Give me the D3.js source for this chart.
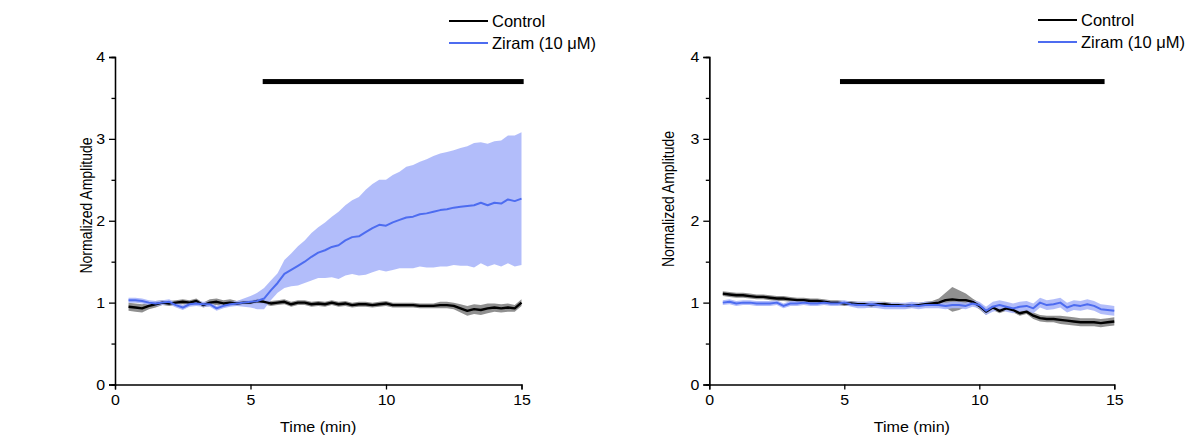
<!DOCTYPE html>
<html>
<head>
<meta charset="utf-8">
<script src="https://cdn.jsdelivr.net/npm/d3@7"></script>
<style>
  body { margin: 0; background: #fff; }
  svg { display: block; font-family: "Liberation Sans", Arial, sans-serif; }
</style>
</head>
<body>
<svg id="chart" width="1200" height="441"></svg>
<script>
// --- Data ---

const times = [
  0.5, 0.75, 1, 1.25, 1.5, 1.75, 2, 2.25, 2.5, 2.75,
  3, 3.25, 3.5, 3.75, 4, 4.25, 4.5, 4.75, 5, 5.25,
  5.5, 5.75, 6, 6.25, 6.5, 6.75, 7, 7.25, 7.5, 7.75,
  8, 8.25, 8.5, 8.75, 9, 9.25, 9.5, 9.75, 10, 10.25,
  10.5, 10.75, 11, 11.25, 11.5, 11.75, 12, 12.25, 12.5, 12.75,
  13, 13.25, 13.5, 13.75, 14, 14.25, 14.5, 14.75, 15,
];

const leftCtrlMean = [
  0.95, 0.94, 0.93, 0.96, 0.98, 1.00, 0.99, 1.00, 1.01, 1.00,
  1.02, 0.97, 1.00, 1.01, 0.99, 1.00, 0.99, 1.00, 1.00, 1.02,
  1.01, 0.99, 1.00, 1.01, 0.98, 1.00, 1.00, 0.98, 0.99, 0.98,
  1.00, 0.98, 0.99, 0.97, 0.98, 0.98, 0.97, 0.98, 0.99, 0.97,
  0.97, 0.97, 0.97, 0.96, 0.96, 0.96, 0.97, 0.97, 0.96, 0.93,
  0.90, 0.92, 0.91, 0.93, 0.94, 0.93, 0.94, 0.93, 1.00,
];
const leftCtrlSem = [
  0.05, 0.05, 0.05, 0.04, 0.04, 0.03, 0.03, 0.03, 0.03, 0.03,
  0.03, 0.03, 0.04, 0.04, 0.04, 0.04, 0.03, 0.03, 0.03, 0.03,
  0.03, 0.03, 0.03, 0.03, 0.03, 0.03, 0.03, 0.03, 0.03, 0.03,
  0.03, 0.03, 0.03, 0.03, 0.03, 0.03, 0.03, 0.03, 0.03, 0.03,
  0.03, 0.03, 0.03, 0.03, 0.03, 0.03, 0.04, 0.04, 0.04, 0.05,
  0.06, 0.06, 0.06, 0.06, 0.05, 0.05, 0.05, 0.04, 0.04,
];
const leftZirMean = [
  1.03, 1.03, 1.02, 1.00, 0.99, 1.00, 1.01, 0.97, 0.94, 0.98,
  0.99, 0.98, 0.98, 0.93, 0.96, 0.98, 0.99, 1.00, 1.01, 1.02,
  1.05, 1.15, 1.24, 1.35, 1.40, 1.45, 1.50, 1.56, 1.61, 1.64,
  1.68, 1.70, 1.76, 1.80, 1.81, 1.86, 1.91, 1.95, 1.94, 1.98,
  2.01, 2.04, 2.05, 2.08, 2.09, 2.11, 2.13, 2.14, 2.16, 2.17,
  2.18, 2.19, 2.22, 2.19, 2.22, 2.21, 2.26, 2.24, 2.27,
];
const leftZirSem = [
  0.03, 0.03, 0.03, 0.03, 0.03, 0.03, 0.03, 0.03, 0.03, 0.03,
  0.03, 0.03, 0.03, 0.03, 0.03, 0.03, 0.03, 0.05, 0.07, 0.10,
  0.13, 0.12, 0.12, 0.17, 0.20, 0.24, 0.26, 0.29, 0.31, 0.34,
  0.37, 0.41, 0.43, 0.45, 0.48, 0.52, 0.54, 0.55, 0.56, 0.58,
  0.59, 0.62, 0.63, 0.64, 0.66, 0.68, 0.69, 0.70, 0.70, 0.72,
  0.73, 0.76, 0.74, 0.75, 0.75, 0.77, 0.78, 0.80, 0.81,
];

const rightCtrlMean = [
  1.11, 1.10, 1.09, 1.09, 1.08, 1.07, 1.07, 1.06, 1.05, 1.05,
  1.04, 1.03, 1.03, 1.02, 1.02, 1.01, 1.00, 1.00, 0.99, 0.99,
  0.98, 0.98, 0.97, 0.98, 0.98, 0.97, 0.97, 0.96, 0.97, 0.97,
  0.98, 0.99, 1.00, 1.03, 1.04, 1.03, 1.03, 1.01, 0.96, 0.89,
  0.94, 0.90, 0.93, 0.91, 0.87, 0.89, 0.84, 0.81, 0.80, 0.80,
  0.79, 0.78, 0.77, 0.76, 0.76, 0.76, 0.75, 0.76, 0.77,
];
const rightCtrlSem = [
  0.03, 0.03, 0.03, 0.03, 0.03, 0.03, 0.03, 0.03, 0.03, 0.03,
  0.03, 0.03, 0.03, 0.03, 0.03, 0.03, 0.03, 0.03, 0.03, 0.03,
  0.03, 0.03, 0.03, 0.03, 0.03, 0.03, 0.03, 0.03, 0.03, 0.03,
  0.03, 0.03, 0.05, 0.09, 0.15, 0.12, 0.08, 0.04, 0.04, 0.04,
  0.03, 0.03, 0.03, 0.03, 0.03, 0.03, 0.04, 0.04, 0.04, 0.04,
  0.05, 0.05, 0.05, 0.05, 0.05, 0.05, 0.05, 0.05, 0.05,
];
const rightZirMean = [
  1.00, 1.01, 0.99, 1.00, 1.00, 0.99, 0.99, 0.99, 1.00, 0.96,
  0.99, 0.99, 1.00, 0.99, 0.99, 1.00, 0.99, 0.99, 1.00, 0.98,
  0.97, 0.97, 0.98, 0.97, 0.96, 0.96, 0.96, 0.96, 0.97, 0.96,
  0.97, 0.97, 0.97, 0.96, 0.97, 0.97, 0.96, 0.99, 0.97, 0.90,
  0.95, 0.97, 0.95, 0.93, 0.95, 0.96, 0.93, 1.00, 0.97, 0.98,
  1.00, 0.94, 0.97, 0.96, 0.98, 0.96, 0.92, 0.91, 0.90,
];
const rightZirSem = [
  0.03, 0.03, 0.03, 0.03, 0.03, 0.03, 0.03, 0.03, 0.03, 0.03,
  0.03, 0.03, 0.03, 0.03, 0.03, 0.03, 0.03, 0.03, 0.03, 0.03,
  0.04, 0.04, 0.04, 0.04, 0.04, 0.04, 0.04, 0.04, 0.04, 0.04,
  0.04, 0.04, 0.04, 0.04, 0.04, 0.04, 0.04, 0.04, 0.04, 0.05,
  0.06, 0.06, 0.06, 0.06, 0.06, 0.06, 0.06, 0.06, 0.06, 0.06,
  0.06, 0.06, 0.06, 0.06, 0.06, 0.06, 0.06, 0.06, 0.06,
];

// stimulus bar (start, end in min)
const leftStim = [5.45, 15.08];
const rightStim = [4.84, 14.64];

const xTicks = [0, 5, 10, 15];
const yTicks = [0, 1, 2, 3, 4];
const yMinorTicks = [0.5, 1.5, 2.5, 3.5];
const seriesNames = ["Control", "Ziram (10 \u03bcM)"];

// --- Style ---

const BLACK = "#000";
const GRAY_BAND = "#7c7c7c";
const BLUE = "#4d6cf0";
const BLUE_BAND = "#aab6fa";
const SX = 1.15; // horizontal text stretch seen in the figure

// --- Layout ---

const panels = [
  {
    x0: 115, x1: 521.5, yTitleX: 86, yTitleY: 205.5,
    legendX: 449, legendY: 21,
    ctrl: [leftCtrlMean, leftCtrlSem], zir: [leftZirMean, leftZirSem],
    stim: leftStim,
  },
  {
    x0: 709.3, x1: 1114.3, yTitleX: 668, yTitleY: 199,
    legendX: 1038, legendY: 20,
    ctrl: [rightCtrlMean, rightCtrlSem], zir: [rightZirMean, rightZirSem],
    stim: rightStim,
  },
];
const yTop = 57;
const yBot = 384.5;

const svg = d3.select("#chart");

function stretchedText(parent, x, y, str, size, anchor, rotate) {
  const g = parent.append("g")
    .attr("transform", `translate(${x},${y}) scale(${SX},1)` + (rotate ? " rotate(-90)" : ""));
  return g.append("text")
    .attr("text-anchor", anchor)
    .attr("font-size", size)
    .attr("fill", "#000")
    .text(str);
}

panels.forEach(drawPanel);

function drawPanel(p) {
  const x = d3.scaleLinear().domain([0, 15]).range([p.x0, p.x1]);
  const y = d3.scaleLinear().domain([0, 4]).range([yBot, yTop]);
  const g = svg.append("g");

  const band = (mean, sem) => d3.area()
    .x((d, i) => x(times[i]))
    .y0((d, i) => y(mean[i] - sem[i]))
    .y1((d, i) => y(mean[i] + sem[i]))(times);
  const line = (mean) => d3.line()
    .x((d, i) => x(times[i]))
    .y((d, i) => y(mean[i]))(times);

  // SEM bands
  g.append("path").attr("d", band(...p.ctrl))
    .attr("fill", GRAY_BAND).attr("opacity", 0.85);
  g.append("path").attr("d", band(...p.zir))
    .attr("fill", BLUE_BAND).attr("opacity", 0.9);

  // mean traces
  g.append("path").attr("d", line(p.ctrl[0]))
    .attr("fill", "none").attr("stroke", BLACK).attr("stroke-width", 2.4)
    .attr("stroke-linejoin", "round");
  g.append("path").attr("d", line(p.zir[0]))
    .attr("fill", "none").attr("stroke", BLUE).attr("stroke-width", 2)
    .attr("stroke-linejoin", "round");

  // stimulus bar
  g.append("rect")
    .attr("x", x(p.stim[0]))
    .attr("width", x(p.stim[1]) - x(p.stim[0]))
    .attr("y", y(3.7) - 2.5)
    .attr("height", 5)
    .attr("fill", "#000");

  // axes
  const yMinor = g.append("g")
    .attr("transform", `translate(${p.x0},0)`)
    .call(d3.axisLeft(y).tickValues(yMinorTicks).tickSize(3.5).tickFormat(""));
  const yAxis = g.append("g")
    .attr("transform", `translate(${p.x0},0)`)
    .call(d3.axisLeft(y).tickValues(yTicks).tickSize(6).tickPadding(3).tickFormat(d3.format("d")));
  const xAxis = g.append("g")
    .attr("transform", `translate(0,${yBot})`)
    .call(d3.axisBottom(x).tickValues(xTicks).tickSize(5).tickPadding(5).tickFormat(d3.format("d")));

  [yMinor, yAxis, xAxis].forEach((a) => {
    a.select(".domain").attr("stroke", "#000").attr("stroke-width", 1.3);
    a.selectAll(".tick line").attr("stroke", "#000").attr("stroke-width", 1.3);
    a.selectAll(".tick text")
      .attr("font-family", "Liberation Sans, Arial, sans-serif")
      .attr("font-size", 14.5)
      .attr("fill", "#000");
  });
  yAxis.selectAll(".tick text").attr("transform", "scale(1.1,1)");
  xAxis.selectAll(".tick text").attr("transform", "scale(1.1,1)");

  // axis titles
  stretchedText(g, (p.x0 + p.x1) / 2, 432, "Time (min)", 14, "middle");
  stretchedText(g, p.yTitleX, p.yTitleY, "Normalized Amplitude", 14, "middle", true)
    .attr("dy", "0.35em");

  // legend
  const colors = [BLACK, BLUE];
  seriesNames.forEach((name, i) => {
    const ly = p.legendY + i * 22;
    g.append("line")
      .attr("x1", p.legendX).attr("x2", p.legendX + 39)
      .attr("y1", ly).attr("y2", ly)
      .attr("stroke", colors[i]).attr("stroke-width", 2);
    g.append("text")
      .attr("x", p.legendX + 43).attr("y", ly)
      .attr("dy", "0.36em")
      .attr("font-size", 16.5)
      .attr("fill", "#000")
      .text(name);
  });
}
</script>
</body>
</html>
